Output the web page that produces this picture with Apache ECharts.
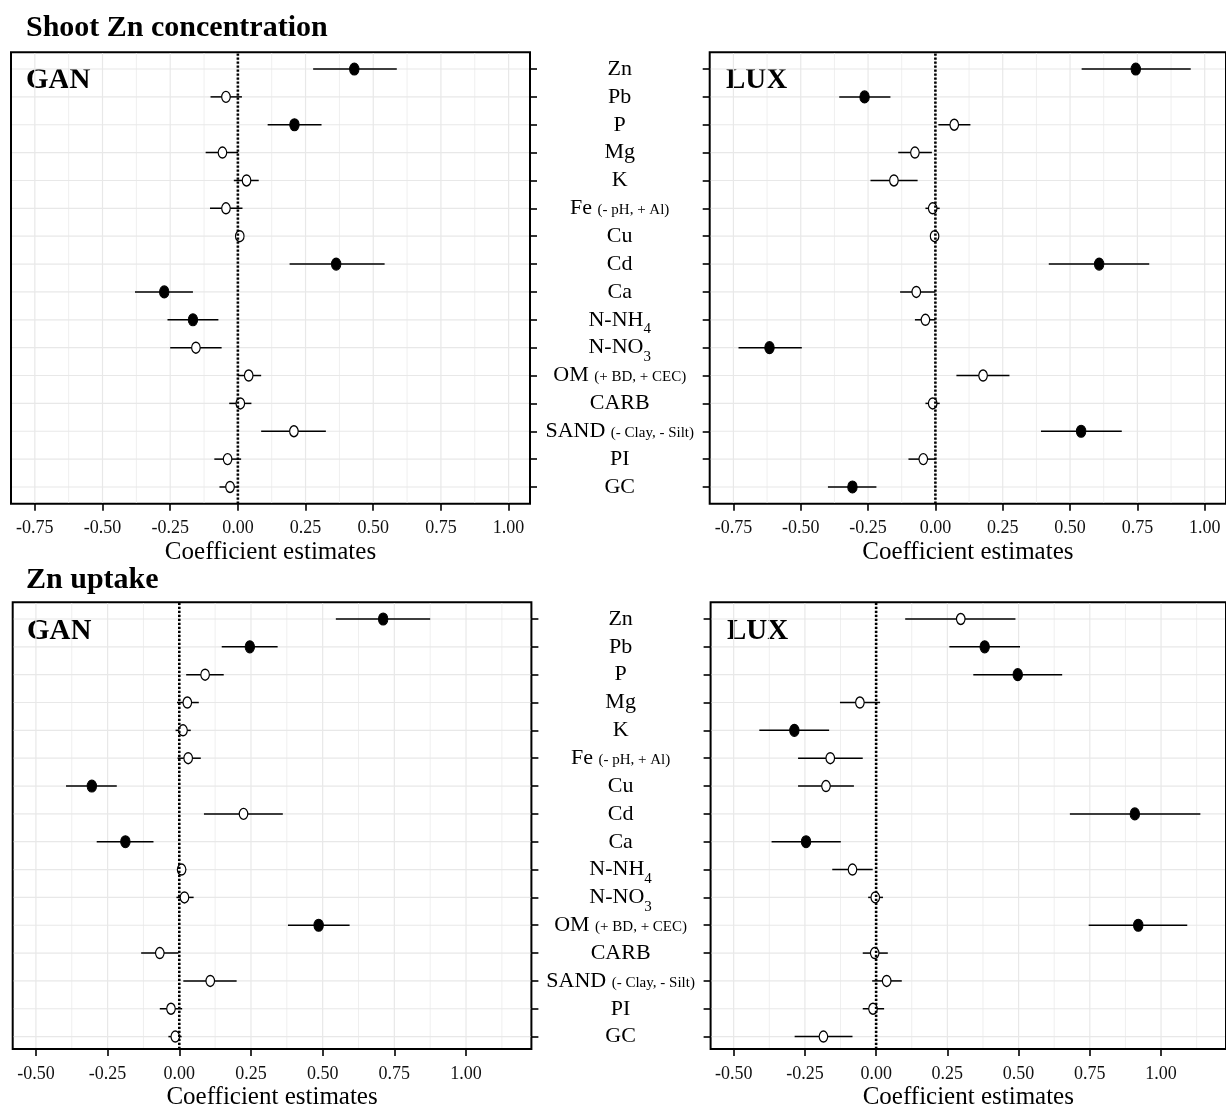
<!DOCTYPE html>
<html>
<head>
<meta charset="utf-8">
<script src="https://cdn.jsdelivr.net/npm/echarts@6/dist/echarts.min.js"></script>
<style>html,body{margin:0;padding:0;background:#fff}#c{width:1226px;height:1111px}</style>
</head>
<body>
<div id="c"></div>
<script>
// ---------------- DATA ----------------
const categories = ['Zn','Pb','P','Mg','K','Fe','Cu','Cd','Ca','N-NH4','N-NO3','OM','CARB','SAND','PI','GC'];
const categoryLabels = ['{m|Zn}','{m|Pb}','{m|P}','{m|Mg}','{m|K}','{m|Fe }{s|(- pH, + Al)}','{m|Cu}','{m|Cd}','{m|Ca}',
  '{m|N-NH}{sub|4}','{m|N-NO}{sub|3}','{m|OM }{s|(+ BD, + CEC)}','{m|CARB}','{m|SAND }{s|(- Clay, - Silt)}','{m|PI}','{m|GC}'];

// Shoot Zn concentration - GAN
const shootGanEst = [0.430,-0.044,0.209,-0.057,0.032,-0.044,0.007,0.363,-0.272,-0.166,-0.155,0.040,0.009,0.207,-0.038,-0.029];
const shootGanLo  = [0.278,-0.101,0.110,-0.119,-0.015,-0.103,-0.007,0.191,-0.380,-0.260,-0.250,0.000,-0.032,0.086,-0.087,-0.068];
const shootGanHi  = [0.587,0.015,0.309,0.001,0.077,0.017,0.020,0.542,-0.166,-0.072,-0.060,0.086,0.050,0.325,0.012,0.000];
const shootGanSig = [1,0,1,0,0,0,0,1,1,1,0,0,0,0,0,0];

// Shoot Zn concentration - LUX
const shootLuxEst = [0.744,-0.263,0.070,-0.076,-0.154,-0.010,-0.003,0.608,-0.071,-0.037,-0.616,0.177,-0.010,0.541,-0.045,-0.308];
const shootLuxLo  = [0.543,-0.357,0.011,-0.138,-0.241,-0.037,-0.016,0.421,-0.131,-0.076,-0.731,0.078,-0.037,0.392,-0.100,-0.399];
const shootLuxHi  = [0.948,-0.167,0.130,-0.013,-0.066,0.016,0.010,0.794,0.000,0.000,-0.496,0.275,0.016,0.692,0.000,-0.219];
const shootLuxSig = [1,1,0,0,0,0,0,1,0,0,1,0,0,1,0,1];

// Zn uptake - GAN
const uptakeGanEst = [0.711,0.246,0.090,0.028,0.013,0.031,-0.305,0.224,-0.188,0.008,0.018,0.486,-0.068,0.108,-0.029,-0.014];
const uptakeGanLo  = [0.546,0.148,0.024,-0.008,-0.013,-0.006,-0.395,0.086,-0.288,-0.008,-0.010,0.379,-0.133,0.014,-0.068,-0.038];
const uptakeGanHi  = [0.875,0.343,0.155,0.068,0.040,0.075,-0.218,0.361,-0.090,0.024,0.050,0.594,-0.003,0.200,0.010,0.008];
const uptakeGanSig = [1,1,0,0,0,0,1,0,1,0,0,1,0,0,0,0];

// Zn uptake - LUX
const uptakeLuxEst = [0.297,0.381,0.497,-0.057,-0.287,-0.161,-0.176,0.908,-0.246,-0.083,-0.003,0.920,-0.005,0.037,-0.011,-0.185];
const uptakeLuxLo  = [0.102,0.257,0.341,-0.127,-0.410,-0.274,-0.274,0.680,-0.367,-0.154,-0.028,0.746,-0.047,-0.014,-0.047,-0.286];
const uptakeLuxHi  = [0.489,0.505,0.653,0.014,-0.165,-0.047,-0.078,1.138,-0.124,-0.012,0.024,1.092,0.041,0.090,0.028,-0.083];
const uptakeLuxSig = [0,1,1,0,1,0,0,1,1,0,0,1,0,0,0,0];

// axis breaks / tick labels
const topTicks = [-0.75,-0.50,-0.25,0.00,0.25,0.50,0.75,1.00];
const topMinor = [-0.625,-0.375,-0.125,0.125,0.375,0.625,0.875];
const bottomTicks = [-0.50,-0.25,0.00,0.25,0.50,0.75,1.00];
const bottomMinor = [-0.375,-0.125,0.125,0.375,0.625,0.875,1.125];
const axisTitle = 'Coefficient estimates';
const sectionTitles = ['Shoot Zn concentration','Zn uptake'];
const siteNames = ['GAN','LUX','GAN','LUX'];

// ---------------- LAYOUT ----------------
const FONT = '"Liberation Serif","Times New Roman",serif';
const panels = [
  {left:11,    top:52.3,  width:519,   height:451.4, min:-0.838, max:1.079, ticks:topTicks,    minor:topMinor,    labels:false, est:shootGanEst,  lo:shootGanLo,  hi:shootGanHi,  sig:shootGanSig},
  {left:709.7, top:52.3,  width:519,   height:451.4, min:-0.838, max:1.079, ticks:topTicks,    minor:topMinor,    labels:true,  est:shootLuxEst,  lo:shootLuxLo,  hi:shootLuxHi,  sig:shootLuxSig},
  {left:12.7,  top:602.3, width:518.7, height:451,   min:-0.581, max:1.228, ticks:bottomTicks, minor:bottomMinor, labels:false, est:uptakeGanEst, lo:uptakeGanLo, hi:uptakeGanHi, sig:uptakeGanSig},
  {left:710.6, top:602.3, width:518.7, height:451,   min:-0.581, max:1.228, ticks:bottomTicks, minor:bottomMinor, labels:true,  est:uptakeLuxEst, lo:uptakeLuxLo, hi:uptakeLuxHi, sig:uptakeLuxSig}
];

const grid = [], xAxis = [], yAxis = [], series = [];
panels.forEach((P, k) => {
  const row = P.height / (categories.length - 1 + 1.2);
  const go = 2*k, gi = 2*k + 1;
  grid.push({left:P.left, top:P.top, width:P.width, height:P.height, show:true, borderColor:'#000', borderWidth:2, backgroundColor:'transparent'});
  grid.push({left:P.left, top:P.top + 0.1*row, width:P.width, height:row*categories.length, show:false});
  xAxis.push({
    gridIndex:go, type:'value', min:P.min, max:P.max,
    axisLine:{show:false, onZero:false},
    axisTick:{show:true, customValues:P.ticks, length:7, lineStyle:{color:'#000', width:1.6}},
    axisLabel:{show:true, customValues:P.ticks, formatter:v => v.toFixed(2), fontSize:18, fontFamily:FONT, color:'#111', margin:16},
    splitLine:{show:false},
    name:axisTitle, nameLocation:'middle', nameGap:36,
    nameTextStyle:{fontSize:25, fontFamily:FONT, color:'#000'}
  });
  yAxis.push({gridIndex:go, type:'value', min:0, max:1, show:false});
  xAxis.push({gridIndex:gi, type:'value', min:P.min, max:P.max, show:false, axisLine:{onZero:false}});
  yAxis.push({
    gridIndex:gi, type:'category', data:categories, inverse:true,
    position: P.labels ? 'left' : 'right',
    axisLine:{show:false, onZero:false},
    axisTick:{show:true, alignWithLabel:true, interval:0, length:7, lineStyle:{color:'#000', width:1.6}},
    axisLabel: P.labels ? {
      show:true, interval:0, margin:90, align:'center',
      formatter:(v, i) => categoryLabels[categories.indexOf(v)],
      rich:{
        m:{fontSize:22, fontFamily:FONT, color:'#000'},
        s:{fontSize:15, fontFamily:FONT, color:'#000', padding:[4,0,0,0]},
        sub:{fontSize:15, fontFamily:FONT, color:'#000', padding:[19,0,0,0]}
      }
    } : {show:false},
    splitLine:{show:false}
  });
  // vertical grid lines (major + minor)
  const gridVals = P.ticks.map(v => [v, 1]).concat(P.minor.map(v => [v, 0]));
  series.push({
    type:'custom', xAxisIndex:go, yAxisIndex:go, z:1, silent:true, clip:false,
    data:gridVals,
    renderItem:(params, api) => {
      const v = api.value(0);
      const a = api.coord([v, 0]), b = api.coord([v, 1]);
      return {type:'line', shape:{x1:a[0], y1:a[1]-1, x2:b[0], y2:b[1]+1},
        style:{stroke: api.value(1) ? '#E8E8E8' : '#EFEFEF', lineWidth: api.value(1) ? 1.2 : 1}};
    }
  });
  // horizontal grid lines at categories
  series.push({
    type:'custom', xAxisIndex:gi, yAxisIndex:gi, z:1, silent:true, clip:false,
    data:categories.map((c, i) => [i]),
    encode:{y:0},
    renderItem:(params, api) => {
      const i = api.value(0);
      const a = api.coord([P.min, i]), b = api.coord([P.max, i]);
      return {type:'line', shape:{x1:a[0]+1, y1:a[1], x2:b[0]-1, y2:b[1]},
        style:{stroke:'#E8E8E8', lineWidth:1.2}};
    }
  });
  // error bars
  series.push({
    type:'custom', xAxisIndex:gi, yAxisIndex:gi, z:3, silent:true,
    data:categories.map((c, i) => [P.lo[i], P.hi[i], i]),
    encode:{x:[0,1], y:2},
    renderItem:(params, api) => {
      const a = api.coord([api.value(0), api.value(2)]), b = api.coord([api.value(1), api.value(2)]);
      return {type:'line', shape:{x1:a[0], y1:a[1], x2:b[0], y2:b[1]}, style:{stroke:'#000', lineWidth:1.5}};
    }
  });
  // points
  series.push({
    type:'scatter', xAxisIndex:gi, yAxisIndex:gi, z:4, silent:true,
    symbol:'circle', symbolSize:[9.5,12],
    data:categories.map((c, i) => P.sig[i] ? [P.est[i], i] : null).filter(d => d),
    itemStyle:{color:'#000', borderColor:'#000', borderWidth:1, opacity:1}
  });
  series.push({
    type:'scatter', xAxisIndex:gi, yAxisIndex:gi, z:4, silent:true,
    symbol:'circle', symbolSize:[8.5,11],
    data:categories.map((c, i) => !P.sig[i] ? [P.est[i], i] : null).filter(d => d),
    itemStyle:{color:'#fff', borderColor:'#000', borderWidth:1.3, opacity:1}
  });
  // dotted zero line
  series.push({
    type:'line', xAxisIndex:go, yAxisIndex:go, z:5, silent:true,
    data:[[0,0],[0,1]], symbol:'none',
    lineStyle:{color:'#000', width:2.6, type:[2.2,1.8], opacity:1}
  });
});

const titleStyle = {fontSize:30, fontWeight:'bold', fontFamily:FONT, fill:'#000', verticalAlign:'middle', align:'left'};
const siteStyle = {fontSize:29, fontWeight:'bold', fontFamily:FONT, fill:'#000', verticalAlign:'middle', align:'left'};
const graphic = [
  {type:'text', x:26, y:28, style:Object.assign({text:sectionTitles[0]}, titleStyle)},
  {type:'text', x:26, y:580, style:Object.assign({text:sectionTitles[1]}, titleStyle)},
  {type:'text', x:26,  y:81,  style:Object.assign({text:siteNames[0]}, siteStyle)},
  {type:'text', x:726, y:81,  style:Object.assign({text:siteNames[1]}, siteStyle)},
  {type:'text', x:27,  y:632, style:Object.assign({text:siteNames[2]}, siteStyle)},
  {type:'text', x:727, y:632, style:Object.assign({text:siteNames[3]}, siteStyle)}
];

const chart = echarts.init(document.getElementById('c'), null, {renderer:'canvas'});
chart.setOption({animation:false, backgroundColor:'#fff', grid, xAxis, yAxis, series, graphic});
</script>
</body>
</html>
